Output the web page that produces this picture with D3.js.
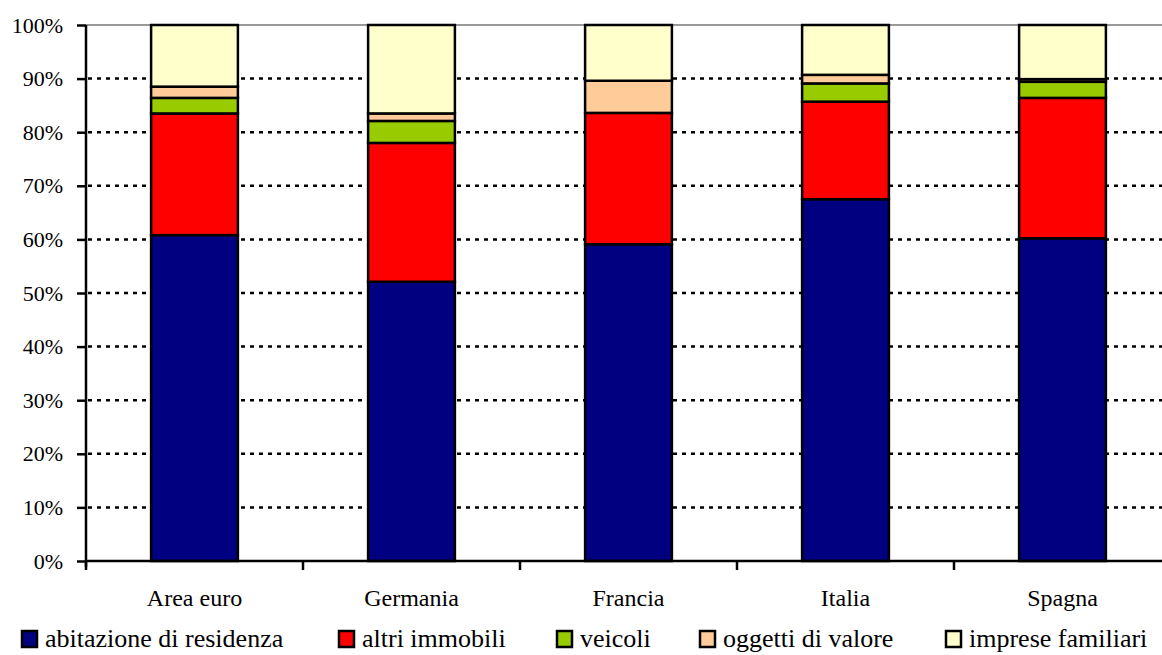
<!DOCTYPE html>
<html>
<head>
<meta charset="utf-8">
<script src="https://cdn.jsdelivr.net/npm/d3@7"></script>
<style>
  html, body { margin: 0; padding: 0; background: #fff; }
  svg { display: block; }
  svg text { font-family: "Liberation Serif", "Times New Roman", serif; fill: #000; }
</style>
</head>
<body>
<svg id="chart" width="1162" height="655"></svg>
<script>
// Composizione della ricchezza reale delle famiglie (quote percentuali)
const categories = ["Area euro", "Germania", "Francia", "Italia", "Spagna"];
const seriesNames = ["abitazione di residenza", "altri immobili", "veicoli", "oggetti di valore", "imprese familiari"];
const abitazione = [60.8, 52.1, 59.1, 67.5, 60.2];
const altriImmobili = [22.7, 25.9, 24.5, 18.2, 26.2];
const veicoli = [2.9, 4.1, 0.0, 3.4, 3.0];
const oggettiValore = [2.1, 1.4, 6.0, 1.6, 0.5];
const impreseFamiliari = [11.5, 16.5, 10.4, 9.3, 10.1];
const yTicks = [0, 10, 20, 30, 40, 50, 60, 70, 80, 90, 100];
const colors = ["#000080", "#ff0000", "#99cc00", "#ffcc99", "#ffffcc"];

const seriesValues = [abitazione, altriImmobili, veicoli, oggettiValore, impreseFamiliari];
const rows = categories.map((c, i) => {
  const r = { cat: c };
  seriesNames.forEach((s, k) => { r[s] = seriesValues[k][i]; });
  return r;
});

const svg = d3.select("#chart");
const plotLeft = 86, plotRight = 1171, plotTop = 25, plotBottom = 561;

const x = d3.scaleBand().domain(categories).range([plotLeft, plotRight]).paddingInner(0).paddingOuter(0);
const y = d3.scaleLinear().domain([0, 100]).range([plotBottom, plotTop]);
const barW = x.bandwidth() * 0.4;

// gridlines
svg.append("g").selectAll("line")
  .data(yTicks.filter(t => t > 0 && t < 100))
  .join("line")
  .attr("x1", plotLeft + 2).attr("x2", plotRight)
  .attr("y1", d => y(d)).attr("y2", d => y(d))
  .attr("stroke", "#000").attr("stroke-width", 2.5)
  .attr("stroke-dasharray", "4,5");

// plot area top border
svg.append("line")
  .attr("x1", plotLeft).attr("x2", plotRight)
  .attr("y1", y(100)).attr("y2", y(100))
  .attr("stroke", "#999").attr("stroke-width", 2);

// stacked bars
const stacked = d3.stack().keys(seriesNames)(rows);
svg.append("g").selectAll("g")
  .data(stacked)
  .join("g")
  .attr("fill", (d, i) => colors[i])
  .selectAll("rect")
  .data(d => d.filter(p => p[1] - p[0] > 0))
  .join("rect")
  .attr("x", d => x(d.data.cat) + (x.bandwidth() - barW) / 2)
  .attr("width", barW)
  .attr("y", d => y(d[1]))
  .attr("height", d => y(d[0]) - y(d[1]))
  .attr("stroke", "#000").attr("stroke-width", 2.5);

// y axis
const yAxis = svg.append("g")
  .attr("transform", `translate(${plotLeft},0)`)
  .call(d3.axisLeft(y).tickValues(yTicks).tickFormat(d => d + "%").tickSize(9).tickPadding(14));
yAxis.attr("font-family", null).attr("font-size", null);
yAxis.select(".domain").attr("stroke", "#000").attr("stroke-width", 2.5)
  .attr("d", `M0,${plotTop}V${plotBottom + 6}`);
yAxis.selectAll(".tick line").attr("stroke", "#000").attr("stroke-width", 2.5);
yAxis.selectAll(".tick text").style("font-size", "22px");

// x axis: ticks at band boundaries
const xAxis = svg.append("g");
xAxis.append("line")
  .attr("x1", plotLeft).attr("x2", plotRight)
  .attr("y1", plotBottom).attr("y2", plotBottom)
  .attr("stroke", "#000").attr("stroke-width", 2.5);
xAxis.selectAll("line.tk")
  .data(categories)
  .join("line").attr("class", "tk")
  .attr("x1", d => x(d)).attr("x2", d => x(d))
  .attr("y1", plotBottom).attr("y2", plotBottom + 9)
  .attr("stroke", "#000").attr("stroke-width", 2.5);
xAxis.selectAll("text")
  .data(categories)
  .join("text")
  .attr("x", d => x(d) + x.bandwidth() / 2)
  .attr("y", 606)
  .attr("text-anchor", "middle")
  .style("font-size", "24px")
  .text(d => d);

// legend
const legendX = [21, 338, 556, 699, 945];
const legend = svg.append("g").selectAll("g")
  .data(seriesNames)
  .join("g")
  .attr("transform", (d, i) => `translate(${legendX[i]},0)`);
legend.append("rect")
  .attr("x", 1).attr("y", 631).attr("width", 15).attr("height", 16)
  .attr("fill", (d, i) => colors[i])
  .attr("stroke", "#000").attr("stroke-width", 2.5);
legend.append("text")
  .attr("x", 24).attr("y", 647)
  .style("font-size", "26px")
  .text(d => d);
</script>
</body>
</html>
